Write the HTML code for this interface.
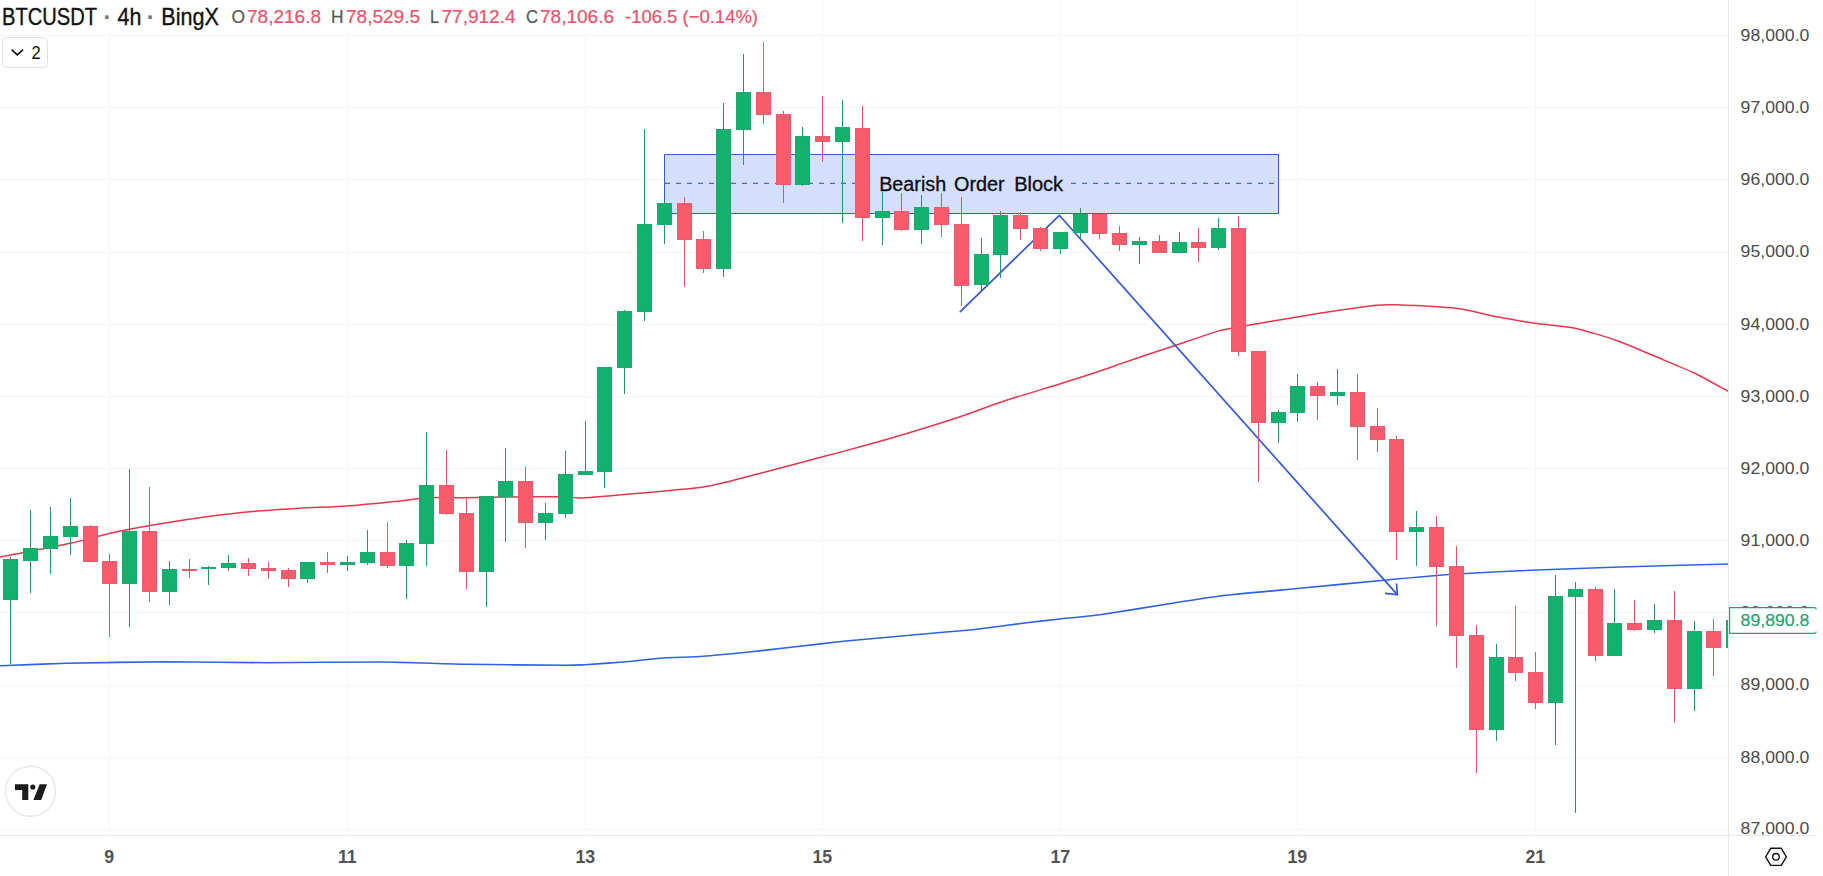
<!DOCTYPE html>
<html><head><meta charset="utf-8"><title>BTCUSDT 4h</title>
<style>html,body{margin:0;padding:0;background:#fff;overflow:hidden}svg{display:block}</style></head>
<body>
<svg width="1823" height="876" viewBox="0 0 1823 876" font-family="'Liberation Sans', Arial, sans-serif">
<rect width="1823" height="876" fill="#fff"/>
<defs><clipPath id="pane"><rect x="0" y="0" width="1728" height="835"/></clipPath></defs>
<g stroke="#f6f6f7" stroke-width="1" shape-rendering="crispEdges">
<line x1="0" y1="35.5" x2="1728" y2="35.5"/>
<line x1="0" y1="107.5" x2="1728" y2="107.5"/>
<line x1="0" y1="179.5" x2="1728" y2="179.5"/>
<line x1="0" y1="252.5" x2="1728" y2="252.5"/>
<line x1="0" y1="324.5" x2="1728" y2="324.5"/>
<line x1="0" y1="396.5" x2="1728" y2="396.5"/>
<line x1="0" y1="468.5" x2="1728" y2="468.5"/>
<line x1="0" y1="540.5" x2="1728" y2="540.5"/>
<line x1="0" y1="612.5" x2="1728" y2="612.5"/>
<line x1="0" y1="685.5" x2="1728" y2="685.5"/>
<line x1="0" y1="757.5" x2="1728" y2="757.5"/>
<line x1="0" y1="829.5" x2="1728" y2="829.5"/>
<line x1="109.5" y1="0" x2="109.5" y2="835"/>
<line x1="347.5" y1="0" x2="347.5" y2="835"/>
<line x1="585.5" y1="0" x2="585.5" y2="835"/>
<line x1="822.5" y1="0" x2="822.5" y2="835"/>
<line x1="1060.5" y1="0" x2="1060.5" y2="835"/>
<line x1="1297.5" y1="0" x2="1297.5" y2="835"/>
<line x1="1535.5" y1="0" x2="1535.5" y2="835"/>
</g>
<g clip-path="url(#pane)">
<rect x="664.5" y="154.5" width="614" height="59" fill="#d3dffc" stroke="#3361d4" stroke-width="1"/>
<line x1="665" y1="183.3" x2="872" y2="183.3" stroke="#3549ac" stroke-width="1" stroke-dasharray="5 6"/>
<line x1="1071" y1="183.3" x2="1278" y2="183.3" stroke="#3549ac" stroke-width="1" stroke-dasharray="5 6"/>
</g>
<g clip-path="url(#pane)" fill="none" stroke-linejoin="round" stroke-linecap="round">
<path d="M0.0,557.0 C3.3,556.4 26.3,552.1 33.3,550.7 C40.3,549.3 62.6,545.0 70.3,543.3 C78.0,541.6 104.1,534.7 110.0,533.3 C115.9,531.9 123.6,530.4 129.3,529.3 C135.0,528.2 159.0,524.0 166.7,522.7 C174.4,521.4 198.4,517.8 206.7,516.7 C215.0,515.6 240.7,512.5 250.0,511.7 C259.3,510.9 290.3,508.9 300.0,508.3 C309.7,507.7 336.7,506.7 346.7,506.0 C356.7,505.3 392.0,501.8 400.0,501.0 C408.0,500.2 420.0,498.0 426.7,497.7 C433.4,497.4 458.7,497.8 466.7,497.7 C474.7,497.6 496.7,497.1 506.7,497.0 C516.7,496.9 558.9,496.6 566.7,496.7 C574.5,496.8 571.3,498.7 585.0,497.7 C598.7,496.7 685.5,489.6 703.4,487.0 C721.3,484.4 752.4,475.2 764.3,472.2 C776.2,469.2 812.7,459.4 822.6,456.8 C832.5,454.2 854.3,448.4 863.0,446.0 C871.7,443.6 899.7,435.6 909.2,432.7 C918.8,429.8 948.6,420.5 958.5,417.2 C968.4,413.9 997.7,403.1 1007.9,399.8 C1018.1,396.5 1050.4,386.9 1060.3,383.8 C1070.2,380.7 1100.6,370.8 1106.6,368.8 C1112.6,366.8 1115.7,365.4 1120.0,363.9 C1124.3,362.4 1144.2,355.7 1150.0,353.8 C1155.8,351.9 1171.2,346.8 1178.0,344.5 C1184.8,342.2 1211.1,333.0 1218.0,331.1 C1224.9,329.2 1239.3,327.0 1247.1,325.6 C1254.9,324.2 1286.5,318.7 1295.6,317.2 C1304.7,315.7 1329.6,311.6 1337.7,310.4 C1345.8,309.2 1370.7,305.8 1376.5,305.2 C1382.3,304.6 1387.9,304.5 1396.0,304.8 C1404.1,305.1 1447.7,307.3 1457.4,308.4 C1467.1,309.5 1485.2,314.4 1493.0,315.9 C1500.8,317.4 1527.0,322.1 1535.1,323.3 C1543.2,324.5 1565.9,326.2 1574.0,327.9 C1582.1,329.6 1607.9,337.4 1616.0,340.2 C1624.1,343.0 1647.1,353.0 1654.9,356.3 C1662.7,359.6 1686.4,369.3 1693.7,372.8 C1701.0,376.3 1724.6,389.4 1728.0,391.2" stroke="#e4364e" stroke-width="1.5"/>
<path d="M0.0,665.7 C6.7,665.5 50.0,663.7 66.7,663.3 C83.4,662.9 146.7,661.8 166.7,661.7 C186.7,661.6 245.0,662.7 266.7,662.7 C288.4,662.7 363.3,661.8 383.3,662.0 C403.3,662.2 448.4,664.0 466.7,664.3 C485.0,664.6 554.9,665.3 566.7,665.3 C578.5,665.3 579.3,665.0 585.0,664.7 C590.7,664.4 615.8,662.6 623.3,662.0 C630.8,661.4 652.0,658.9 660.0,658.3 C668.0,657.7 694.6,656.9 703.3,656.3 C712.0,655.7 737.7,653.2 746.7,652.3 C755.7,651.4 783.6,648.1 793.3,647.0 C803.0,645.9 833.3,642.3 843.3,641.3 C853.3,640.3 883.3,637.6 893.3,636.7 C903.3,635.8 935.0,633.0 943.3,632.3 C951.6,631.6 968.4,630.3 976.7,629.3 C985.0,628.3 1018.4,623.7 1026.7,622.7 C1035.0,621.7 1052.7,619.8 1060.0,619.0 C1067.3,618.2 1089.2,616.2 1100.0,614.7 C1110.8,613.2 1155.7,605.9 1167.7,604.0 C1179.7,602.1 1206.8,597.6 1220.0,596.0 C1233.2,594.4 1283.3,589.9 1300.0,588.3 C1316.7,586.7 1371.4,581.4 1386.7,580.0 C1402.0,578.6 1440.0,575.2 1453.3,574.3 C1466.6,573.4 1503.3,571.4 1520.0,570.7 C1536.7,570.0 1599.2,567.7 1620.0,567.0 C1640.8,566.3 1717.2,564.3 1728.0,564.0" stroke="#2f62e2" stroke-width="1.6"/>
<polyline points="960.3,311.7 1059.3,215.3 1397.3,594.6" stroke="#3559d6" stroke-width="1.7"/>
<polyline points="1385.7,593.4 1397.3,594.6 1396.6,584" stroke="#3559d6" stroke-width="1.7"/>
</g>
<g clip-path="url(#pane)" shape-rendering="crispEdges">
<rect x="10" y="556.7" width="1" height="107.3" fill="#25936f"/>
<rect x="3" y="559.3" width="15" height="40.7" fill="#1ba672"/>
<rect x="4" y="560.3" width="13" height="38.7" fill="#12b26c"/>
<rect x="30" y="510.0" width="1" height="82.7" fill="#25936f"/>
<rect x="23" y="548.0" width="15" height="12.7" fill="#1ba672"/>
<rect x="24" y="549.0" width="13" height="10.7" fill="#12b26c"/>
<rect x="50" y="507.3" width="1" height="67.0" fill="#25936f"/>
<rect x="43" y="536.0" width="15" height="13.0" fill="#1ba672"/>
<rect x="44" y="537.0" width="13" height="11.0" fill="#12b26c"/>
<rect x="70" y="498.0" width="1" height="57.0" fill="#25936f"/>
<rect x="63" y="526.0" width="15" height="10.7" fill="#1ba672"/>
<rect x="64" y="527.0" width="13" height="8.7" fill="#12b26c"/>
<rect x="90" y="525.0" width="1" height="36.7" fill="#de546c"/>
<rect x="83" y="526.0" width="15" height="35.7" fill="#ec5a6e"/>
<rect x="84" y="527.0" width="13" height="33.7" fill="#f85b6b"/>
<rect x="109" y="554.0" width="1" height="83.0" fill="#de546c"/>
<rect x="102" y="561.0" width="15" height="22.7" fill="#ec5a6e"/>
<rect x="103" y="562.0" width="13" height="20.7" fill="#f85b6b"/>
<rect x="129" y="469.0" width="1" height="157.7" fill="#25936f"/>
<rect x="122" y="531.0" width="15" height="52.7" fill="#1ba672"/>
<rect x="123" y="532.0" width="13" height="50.7" fill="#12b26c"/>
<rect x="149" y="487.0" width="1" height="114.7" fill="#de546c"/>
<rect x="142" y="531.0" width="15" height="60.7" fill="#ec5a6e"/>
<rect x="143" y="532.0" width="13" height="58.7" fill="#f85b6b"/>
<rect x="169" y="561.3" width="1" height="43.4" fill="#25936f"/>
<rect x="162" y="569.0" width="15" height="22.7" fill="#1ba672"/>
<rect x="163" y="570.0" width="13" height="20.7" fill="#12b26c"/>
<rect x="189" y="559.3" width="1" height="18.4" fill="#de546c"/>
<rect x="182" y="569.3" width="15" height="1.2" fill="#ec5a6e"/>
<rect x="208" y="566.0" width="1" height="18.7" fill="#25936f"/>
<rect x="201" y="566.5" width="15" height="2.8" fill="#1ba672"/>
<rect x="202" y="567.5" width="13" height="0.8" fill="#12b26c"/>
<rect x="228" y="555.0" width="1" height="15.7" fill="#25936f"/>
<rect x="221" y="563.0" width="15" height="4.7" fill="#1ba672"/>
<rect x="222" y="564.0" width="13" height="2.7" fill="#12b26c"/>
<rect x="248" y="558.3" width="1" height="17.4" fill="#de546c"/>
<rect x="241" y="563.0" width="15" height="5.7" fill="#ec5a6e"/>
<rect x="242" y="564.0" width="13" height="3.7" fill="#f85b6b"/>
<rect x="268" y="562.3" width="1" height="16.7" fill="#de546c"/>
<rect x="261" y="568.0" width="15" height="2.7" fill="#ec5a6e"/>
<rect x="262" y="569.0" width="13" height="0.7" fill="#f85b6b"/>
<rect x="288" y="568.3" width="1" height="18.4" fill="#de546c"/>
<rect x="281" y="570.0" width="15" height="8.7" fill="#ec5a6e"/>
<rect x="282" y="571.0" width="13" height="6.7" fill="#f85b6b"/>
<rect x="307" y="562.0" width="1" height="20.7" fill="#25936f"/>
<rect x="300" y="562.0" width="15" height="16.7" fill="#1ba672"/>
<rect x="301" y="563.0" width="13" height="14.7" fill="#12b26c"/>
<rect x="327" y="552.0" width="1" height="20.7" fill="#de546c"/>
<rect x="320" y="562.0" width="15" height="2.7" fill="#ec5a6e"/>
<rect x="321" y="563.0" width="13" height="0.7" fill="#f85b6b"/>
<rect x="347" y="555.7" width="1" height="15.0" fill="#25936f"/>
<rect x="340" y="562.0" width="15" height="2.7" fill="#1ba672"/>
<rect x="341" y="563.0" width="13" height="0.7" fill="#12b26c"/>
<rect x="367" y="530.0" width="1" height="34.7" fill="#25936f"/>
<rect x="360" y="552.0" width="15" height="10.7" fill="#1ba672"/>
<rect x="361" y="553.0" width="13" height="8.7" fill="#12b26c"/>
<rect x="387" y="522.3" width="1" height="45.4" fill="#de546c"/>
<rect x="380" y="552.0" width="15" height="13.7" fill="#ec5a6e"/>
<rect x="381" y="553.0" width="13" height="11.7" fill="#f85b6b"/>
<rect x="406" y="540.3" width="1" height="58.4" fill="#25936f"/>
<rect x="399" y="543.0" width="15" height="22.7" fill="#1ba672"/>
<rect x="400" y="544.0" width="13" height="20.7" fill="#12b26c"/>
<rect x="426" y="432.0" width="1" height="133.7" fill="#25936f"/>
<rect x="419" y="485.0" width="15" height="58.7" fill="#1ba672"/>
<rect x="420" y="486.0" width="13" height="56.7" fill="#12b26c"/>
<rect x="446" y="450.0" width="1" height="65.0" fill="#de546c"/>
<rect x="439" y="485.0" width="15" height="28.7" fill="#ec5a6e"/>
<rect x="440" y="486.0" width="13" height="26.7" fill="#f85b6b"/>
<rect x="466" y="499.3" width="1" height="89.7" fill="#de546c"/>
<rect x="459" y="513.0" width="15" height="58.7" fill="#ec5a6e"/>
<rect x="460" y="514.0" width="13" height="56.7" fill="#f85b6b"/>
<rect x="486" y="496.0" width="1" height="110.7" fill="#25936f"/>
<rect x="479" y="496.0" width="15" height="75.7" fill="#1ba672"/>
<rect x="480" y="497.0" width="13" height="73.7" fill="#12b26c"/>
<rect x="505" y="448.0" width="1" height="93.7" fill="#25936f"/>
<rect x="498" y="480.7" width="15" height="16.3" fill="#1ba672"/>
<rect x="499" y="481.7" width="13" height="14.3" fill="#12b26c"/>
<rect x="525" y="467.0" width="1" height="80.7" fill="#de546c"/>
<rect x="518" y="480.7" width="15" height="42.0" fill="#ec5a6e"/>
<rect x="519" y="481.7" width="13" height="40.0" fill="#f85b6b"/>
<rect x="545" y="503.0" width="1" height="37.0" fill="#25936f"/>
<rect x="538" y="513.0" width="15" height="9.7" fill="#1ba672"/>
<rect x="539" y="514.0" width="13" height="7.7" fill="#12b26c"/>
<rect x="565" y="451.0" width="1" height="66.7" fill="#25936f"/>
<rect x="558" y="474.0" width="15" height="39.7" fill="#1ba672"/>
<rect x="559" y="475.0" width="13" height="37.7" fill="#12b26c"/>
<rect x="585" y="420.7" width="1" height="54.0" fill="#25936f"/>
<rect x="578" y="471.0" width="15" height="3.7" fill="#1ba672"/>
<rect x="579" y="472.0" width="13" height="1.7" fill="#12b26c"/>
<rect x="604" y="367.0" width="1" height="120.7" fill="#25936f"/>
<rect x="597" y="367.0" width="15" height="104.7" fill="#1ba672"/>
<rect x="598" y="368.0" width="13" height="102.7" fill="#12b26c"/>
<rect x="624" y="310.0" width="1" height="84.0" fill="#25936f"/>
<rect x="617" y="311.0" width="15" height="56.7" fill="#1ba672"/>
<rect x="618" y="312.0" width="13" height="54.7" fill="#12b26c"/>
<rect x="644" y="129.0" width="1" height="192.3" fill="#25936f"/>
<rect x="637" y="224.0" width="15" height="87.7" fill="#1ba672"/>
<rect x="638" y="225.0" width="13" height="85.7" fill="#12b26c"/>
<rect x="664" y="203.0" width="1" height="40.7" fill="#25936f"/>
<rect x="657" y="203.0" width="15" height="21.7" fill="#1ba672"/>
<rect x="658" y="204.0" width="13" height="19.7" fill="#12b26c"/>
<rect x="684" y="196.7" width="1" height="90.0" fill="#de546c"/>
<rect x="677" y="203.0" width="15" height="36.7" fill="#ec5a6e"/>
<rect x="678" y="204.0" width="13" height="34.7" fill="#f85b6b"/>
<rect x="703" y="231.3" width="1" height="41.4" fill="#de546c"/>
<rect x="696" y="239.3" width="15" height="29.4" fill="#ec5a6e"/>
<rect x="697" y="240.3" width="13" height="27.4" fill="#f85b6b"/>
<rect x="723" y="103.0" width="1" height="173.7" fill="#25936f"/>
<rect x="716" y="129.0" width="15" height="139.7" fill="#1ba672"/>
<rect x="717" y="130.0" width="13" height="137.7" fill="#12b26c"/>
<rect x="743" y="54.0" width="1" height="110.7" fill="#25936f"/>
<rect x="736" y="92.0" width="15" height="38.0" fill="#1ba672"/>
<rect x="737" y="93.0" width="13" height="36.0" fill="#12b26c"/>
<rect x="763" y="42.0" width="1" height="81.7" fill="#de546c"/>
<rect x="756" y="92.0" width="15" height="22.7" fill="#ec5a6e"/>
<rect x="757" y="93.0" width="13" height="20.7" fill="#f85b6b"/>
<rect x="783" y="111.0" width="1" height="92.0" fill="#de546c"/>
<rect x="776" y="114.0" width="15" height="70.7" fill="#ec5a6e"/>
<rect x="777" y="115.0" width="13" height="68.7" fill="#f85b6b"/>
<rect x="802" y="127.0" width="1" height="58.7" fill="#25936f"/>
<rect x="795" y="136.0" width="15" height="48.7" fill="#1ba672"/>
<rect x="796" y="137.0" width="13" height="46.7" fill="#12b26c"/>
<rect x="822" y="96.0" width="1" height="65.7" fill="#de546c"/>
<rect x="815" y="136.0" width="15" height="5.7" fill="#ec5a6e"/>
<rect x="816" y="137.0" width="13" height="3.7" fill="#f85b6b"/>
<rect x="842" y="100.0" width="1" height="122.7" fill="#25936f"/>
<rect x="835" y="127.0" width="15" height="14.7" fill="#1ba672"/>
<rect x="836" y="128.0" width="13" height="12.7" fill="#12b26c"/>
<rect x="862" y="106.0" width="1" height="134.7" fill="#de546c"/>
<rect x="855" y="128.0" width="15" height="89.7" fill="#ec5a6e"/>
<rect x="856" y="129.0" width="13" height="87.7" fill="#f85b6b"/>
<rect x="882" y="192.0" width="1" height="52.7" fill="#25936f"/>
<rect x="875" y="211.0" width="15" height="6.7" fill="#1ba672"/>
<rect x="876" y="212.0" width="13" height="4.7" fill="#12b26c"/>
<rect x="901" y="193.0" width="1" height="37.7" fill="#de546c"/>
<rect x="894" y="211.0" width="15" height="18.7" fill="#ec5a6e"/>
<rect x="895" y="212.0" width="13" height="16.7" fill="#f85b6b"/>
<rect x="921" y="195.0" width="1" height="48.7" fill="#25936f"/>
<rect x="914" y="207.0" width="15" height="22.7" fill="#1ba672"/>
<rect x="915" y="208.0" width="13" height="20.7" fill="#12b26c"/>
<rect x="941" y="193.0" width="1" height="43.7" fill="#de546c"/>
<rect x="934" y="207.0" width="15" height="17.7" fill="#ec5a6e"/>
<rect x="935" y="208.0" width="13" height="15.7" fill="#f85b6b"/>
<rect x="961" y="196.7" width="1" height="109.3" fill="#de546c"/>
<rect x="954" y="224.0" width="15" height="61.7" fill="#ec5a6e"/>
<rect x="955" y="225.0" width="13" height="59.7" fill="#f85b6b"/>
<rect x="981" y="238.3" width="1" height="51.7" fill="#25936f"/>
<rect x="974" y="254.0" width="15" height="30.7" fill="#1ba672"/>
<rect x="975" y="255.0" width="13" height="28.7" fill="#12b26c"/>
<rect x="1000" y="211.0" width="1" height="66.7" fill="#25936f"/>
<rect x="993" y="215.0" width="15" height="39.7" fill="#1ba672"/>
<rect x="994" y="216.0" width="13" height="37.7" fill="#12b26c"/>
<rect x="1020" y="211.7" width="1" height="28.0" fill="#de546c"/>
<rect x="1013" y="215.0" width="15" height="13.7" fill="#ec5a6e"/>
<rect x="1014" y="216.0" width="13" height="11.7" fill="#f85b6b"/>
<rect x="1040" y="226.7" width="1" height="24.0" fill="#de546c"/>
<rect x="1033" y="228.0" width="15" height="20.7" fill="#ec5a6e"/>
<rect x="1034" y="229.0" width="13" height="18.7" fill="#f85b6b"/>
<rect x="1060" y="232.0" width="1" height="21.7" fill="#25936f"/>
<rect x="1053" y="232.0" width="15" height="16.7" fill="#1ba672"/>
<rect x="1054" y="233.0" width="13" height="14.7" fill="#12b26c"/>
<rect x="1080" y="208.0" width="1" height="31.7" fill="#25936f"/>
<rect x="1073" y="214.0" width="15" height="18.7" fill="#1ba672"/>
<rect x="1074" y="215.0" width="13" height="16.7" fill="#12b26c"/>
<rect x="1099" y="214.0" width="1" height="24.7" fill="#de546c"/>
<rect x="1092" y="214.0" width="15" height="19.7" fill="#ec5a6e"/>
<rect x="1093" y="215.0" width="13" height="17.7" fill="#f85b6b"/>
<rect x="1119" y="225.7" width="1" height="25.0" fill="#de546c"/>
<rect x="1112" y="233.0" width="15" height="11.7" fill="#ec5a6e"/>
<rect x="1113" y="234.0" width="13" height="9.7" fill="#f85b6b"/>
<rect x="1139" y="236.7" width="1" height="27.0" fill="#25936f"/>
<rect x="1132" y="241.3" width="15" height="3.4" fill="#1ba672"/>
<rect x="1133" y="242.3" width="13" height="1.4" fill="#12b26c"/>
<rect x="1159" y="234.7" width="1" height="18.0" fill="#de546c"/>
<rect x="1152" y="241.3" width="15" height="11.4" fill="#ec5a6e"/>
<rect x="1153" y="242.3" width="13" height="9.4" fill="#f85b6b"/>
<rect x="1179" y="232.0" width="1" height="20.7" fill="#25936f"/>
<rect x="1172" y="242.0" width="15" height="10.7" fill="#1ba672"/>
<rect x="1173" y="243.0" width="13" height="8.7" fill="#12b26c"/>
<rect x="1198" y="228.0" width="1" height="33.7" fill="#de546c"/>
<rect x="1191" y="242.0" width="15" height="5.7" fill="#ec5a6e"/>
<rect x="1192" y="243.0" width="13" height="3.7" fill="#f85b6b"/>
<rect x="1218" y="218.0" width="1" height="31.7" fill="#25936f"/>
<rect x="1211" y="228.0" width="15" height="19.7" fill="#1ba672"/>
<rect x="1212" y="229.0" width="13" height="17.7" fill="#12b26c"/>
<rect x="1238" y="216.0" width="1" height="139.7" fill="#de546c"/>
<rect x="1231" y="228.0" width="15" height="124.0" fill="#ec5a6e"/>
<rect x="1232" y="229.0" width="13" height="122.0" fill="#f85b6b"/>
<rect x="1258" y="351.0" width="1" height="130.8" fill="#de546c"/>
<rect x="1251" y="351.0" width="15" height="71.7" fill="#ec5a6e"/>
<rect x="1252" y="352.0" width="13" height="69.7" fill="#f85b6b"/>
<rect x="1278" y="410.0" width="1" height="32.7" fill="#25936f"/>
<rect x="1271" y="412.3" width="15" height="10.4" fill="#1ba672"/>
<rect x="1272" y="413.3" width="13" height="8.4" fill="#12b26c"/>
<rect x="1297" y="374.0" width="1" height="47.7" fill="#25936f"/>
<rect x="1290" y="386.0" width="15" height="26.7" fill="#1ba672"/>
<rect x="1291" y="387.0" width="13" height="24.7" fill="#12b26c"/>
<rect x="1317" y="382.0" width="1" height="37.7" fill="#de546c"/>
<rect x="1310" y="386.0" width="15" height="9.7" fill="#ec5a6e"/>
<rect x="1311" y="387.0" width="13" height="7.7" fill="#f85b6b"/>
<rect x="1337" y="369.0" width="1" height="35.7" fill="#25936f"/>
<rect x="1330" y="392.0" width="15" height="3.7" fill="#1ba672"/>
<rect x="1331" y="393.0" width="13" height="1.7" fill="#12b26c"/>
<rect x="1357" y="374.0" width="1" height="85.7" fill="#de546c"/>
<rect x="1350" y="392.0" width="15" height="34.7" fill="#ec5a6e"/>
<rect x="1351" y="393.0" width="13" height="32.7" fill="#f85b6b"/>
<rect x="1377" y="408.0" width="1" height="43.7" fill="#de546c"/>
<rect x="1370" y="426.0" width="15" height="13.7" fill="#ec5a6e"/>
<rect x="1371" y="427.0" width="13" height="11.7" fill="#f85b6b"/>
<rect x="1396" y="436.0" width="1" height="123.7" fill="#de546c"/>
<rect x="1389" y="439.0" width="15" height="92.7" fill="#ec5a6e"/>
<rect x="1390" y="440.0" width="13" height="90.7" fill="#f85b6b"/>
<rect x="1416" y="511.3" width="1" height="55.0" fill="#25936f"/>
<rect x="1409" y="527.0" width="15" height="4.7" fill="#1ba672"/>
<rect x="1410" y="528.0" width="13" height="2.7" fill="#12b26c"/>
<rect x="1436" y="516.3" width="1" height="109.4" fill="#de546c"/>
<rect x="1429" y="527.0" width="15" height="39.7" fill="#ec5a6e"/>
<rect x="1430" y="528.0" width="13" height="37.7" fill="#f85b6b"/>
<rect x="1456" y="546.0" width="1" height="122.2" fill="#de546c"/>
<rect x="1449" y="566.0" width="15" height="69.7" fill="#ec5a6e"/>
<rect x="1450" y="567.0" width="13" height="67.7" fill="#f85b6b"/>
<rect x="1476" y="625.0" width="1" height="148.0" fill="#de546c"/>
<rect x="1469" y="635.0" width="15" height="94.7" fill="#ec5a6e"/>
<rect x="1470" y="636.0" width="13" height="92.7" fill="#f85b6b"/>
<rect x="1496" y="644.0" width="1" height="96.7" fill="#25936f"/>
<rect x="1489" y="657.0" width="15" height="72.7" fill="#1ba672"/>
<rect x="1490" y="658.0" width="13" height="70.7" fill="#12b26c"/>
<rect x="1515" y="606.0" width="1" height="74.7" fill="#de546c"/>
<rect x="1508" y="657.0" width="15" height="15.7" fill="#ec5a6e"/>
<rect x="1509" y="658.0" width="13" height="13.7" fill="#f85b6b"/>
<rect x="1535" y="652.0" width="1" height="56.7" fill="#de546c"/>
<rect x="1528" y="672.0" width="15" height="30.7" fill="#ec5a6e"/>
<rect x="1529" y="673.0" width="13" height="28.7" fill="#f85b6b"/>
<rect x="1555" y="575.0" width="1" height="170.3" fill="#25936f"/>
<rect x="1548" y="596.0" width="15" height="106.7" fill="#1ba672"/>
<rect x="1549" y="597.0" width="13" height="104.7" fill="#12b26c"/>
<rect x="1575" y="582.0" width="1" height="230.7" fill="#25936f"/>
<rect x="1568" y="589.0" width="15" height="7.7" fill="#1ba672"/>
<rect x="1569" y="590.0" width="13" height="5.7" fill="#12b26c"/>
<rect x="1595" y="587.3" width="1" height="73.4" fill="#de546c"/>
<rect x="1588" y="589.0" width="15" height="66.7" fill="#ec5a6e"/>
<rect x="1589" y="590.0" width="13" height="64.7" fill="#f85b6b"/>
<rect x="1614" y="589.0" width="1" height="66.7" fill="#25936f"/>
<rect x="1607" y="623.0" width="15" height="32.7" fill="#1ba672"/>
<rect x="1608" y="624.0" width="13" height="30.7" fill="#12b26c"/>
<rect x="1634" y="600.0" width="1" height="30.7" fill="#de546c"/>
<rect x="1627" y="623.0" width="15" height="6.7" fill="#ec5a6e"/>
<rect x="1628" y="624.0" width="13" height="4.7" fill="#f85b6b"/>
<rect x="1654" y="604.0" width="1" height="28.7" fill="#25936f"/>
<rect x="1647" y="620.0" width="15" height="9.7" fill="#1ba672"/>
<rect x="1648" y="621.0" width="13" height="7.7" fill="#12b26c"/>
<rect x="1674" y="591.0" width="1" height="131.7" fill="#de546c"/>
<rect x="1667" y="620.0" width="15" height="68.7" fill="#ec5a6e"/>
<rect x="1668" y="621.0" width="13" height="66.7" fill="#f85b6b"/>
<rect x="1694" y="621.0" width="1" height="89.7" fill="#25936f"/>
<rect x="1687" y="631.0" width="15" height="57.7" fill="#1ba672"/>
<rect x="1688" y="632.0" width="13" height="55.7" fill="#12b26c"/>
<rect x="1713" y="619.0" width="1" height="56.7" fill="#de546c"/>
<rect x="1706" y="631.0" width="15" height="16.7" fill="#ec5a6e"/>
<rect x="1707" y="632.0" width="13" height="14.7" fill="#f85b6b"/>
<rect x="1733" y="620.0" width="1" height="27.7" fill="#25936f"/>
<rect x="1726" y="620.0" width="15" height="27.7" fill="#1ba672"/>
<rect x="1727" y="621.0" width="13" height="25.7" fill="#12b26c"/>
</g>
<g font-size="19.6" fill="#0c0c14" stroke="#0c0c14" stroke-width="0.3">
<text x="879.2" y="190.7" textLength="67" lengthAdjust="spacingAndGlyphs">Bearish</text>
<text x="954" y="190.7" textLength="50.7" lengthAdjust="spacingAndGlyphs">Order</text>
<text x="1014.2" y="190.7" textLength="48.9" lengthAdjust="spacingAndGlyphs">Block</text>
</g>
<g stroke="#e8e8ea" stroke-width="1" shape-rendering="crispEdges"><line x1="1728.5" y1="0" x2="1728.5" y2="876"/><line x1="0" y1="835.5" x2="1816" y2="835.5"/></g>
<g font-size="16.7" fill="#4b4b4b" clip-path="url(#paxis)">
<defs><clipPath id="paxis"><rect x="1729" y="0" width="94" height="835.3"/></clipPath></defs>
<text x="1740.6" y="40.8" textLength="68.8" lengthAdjust="spacingAndGlyphs">98,000.0</text>
<text x="1740.6" y="113.0" textLength="68.8" lengthAdjust="spacingAndGlyphs">97,000.0</text>
<text x="1740.6" y="185.2" textLength="68.8" lengthAdjust="spacingAndGlyphs">96,000.0</text>
<text x="1740.6" y="257.3" textLength="68.8" lengthAdjust="spacingAndGlyphs">95,000.0</text>
<text x="1740.6" y="329.5" textLength="68.8" lengthAdjust="spacingAndGlyphs">94,000.0</text>
<text x="1740.6" y="401.7" textLength="68.8" lengthAdjust="spacingAndGlyphs">93,000.0</text>
<text x="1740.6" y="473.9" textLength="68.8" lengthAdjust="spacingAndGlyphs">92,000.0</text>
<text x="1740.6" y="546.1" textLength="68.8" lengthAdjust="spacingAndGlyphs">91,000.0</text>
<text x="1740.6" y="618.2" textLength="68.8" lengthAdjust="spacingAndGlyphs">90,000.0</text>
<text x="1740.6" y="690.4" textLength="68.8" lengthAdjust="spacingAndGlyphs">89,000.0</text>
<text x="1740.6" y="762.6" textLength="68.8" lengthAdjust="spacingAndGlyphs">88,000.0</text>
<text x="1740.6" y="833.8" textLength="68.8" lengthAdjust="spacingAndGlyphs">87,000.0</text>
</g>
<rect x="1729.5" y="607.5" width="87" height="26" fill="#fff"/>
<path d="M1816.3,609.3 Q1816,607.6 1814.3,607.6 H1729.6 V633.4 H1814.3 Q1816,633.4 1816.3,631.7" fill="none" stroke="#17a36f" stroke-width="1.1"/>
<text x="1740.6" y="625.5" font-size="16.7" fill="#17a36f" stroke="#17a36f" stroke-width="0.15" textLength="68.8" lengthAdjust="spacingAndGlyphs">89,890.8</text>
<g font-size="17.8" font-weight="700" fill="#535353" text-anchor="middle">
<text x="109.3" y="862.8">9</text>
<text x="347.3" y="862.8">11</text>
<text x="585.3" y="862.8">13</text>
<text x="822.3" y="862.8">15</text>
<text x="1060.3" y="862.8">17</text>
<text x="1297.3" y="862.8">19</text>
<text x="1535.3" y="862.8">21</text>
</g>
<rect x="0" y="0" width="762" height="30.5" fill="#fff"/>
<g font-size="23.7" fill="#111" stroke="#111" stroke-width="0.35">
<text x="2.0" y="24.8" textLength="95" lengthAdjust="spacingAndGlyphs">BTCUSDT</text>
<text x="117.5" y="24.8" textLength="23.8" lengthAdjust="spacingAndGlyphs">4h</text>
<text x="161.3" y="24.8" textLength="57.5" lengthAdjust="spacingAndGlyphs">BingX</text>
</g>
<g font-size="23.7" font-weight="700" fill="#777" text-anchor="middle"><text x="107.5" y="24.8">·</text><text x="150.8" y="24.8">·</text></g>
<g font-size="18.2" stroke-width="0.2">
<text x="231.5" y="22.9" fill="#555" stroke="#555" textLength="13.5" lengthAdjust="spacingAndGlyphs">O</text>
<text x="247" y="22.9" fill="#e8536a" stroke="#e8536a" textLength="74" lengthAdjust="spacingAndGlyphs">78,216.8</text>
<text x="331" y="22.9" fill="#555" stroke="#555" textLength="12.5" lengthAdjust="spacingAndGlyphs">H</text>
<text x="346" y="22.9" fill="#e8536a" stroke="#e8536a" textLength="74" lengthAdjust="spacingAndGlyphs">78,529.5</text>
<text x="430" y="22.9" fill="#555" stroke="#555" textLength="9" lengthAdjust="spacingAndGlyphs">L</text>
<text x="441.5" y="22.9" fill="#e8536a" stroke="#e8536a" textLength="74" lengthAdjust="spacingAndGlyphs">77,912.4</text>
<text x="526" y="22.9" fill="#555" stroke="#555" textLength="12" lengthAdjust="spacingAndGlyphs">C</text>
<text x="540" y="22.9" fill="#e8536a" stroke="#e8536a" textLength="74" lengthAdjust="spacingAndGlyphs">78,106.6</text>
<text x="625" y="22.9" fill="#e8536a" stroke="#e8536a" textLength="133" lengthAdjust="spacingAndGlyphs">-106.5 (−0.14%)</text>
</g>
<rect x="2.5" y="37.5" width="45" height="30" rx="4" fill="#fff" stroke="#e2e2e5" stroke-width="1"/>
<polyline points="11.6,49.6 17.3,54.8 23,49.6" fill="none" stroke="#111" stroke-width="1.6"/>
<text x="31.6" y="59" font-size="19.2" fill="#111" textLength="9.2" lengthAdjust="spacingAndGlyphs">2</text>
<circle cx="30.5" cy="791.3" r="25" fill="#fff" stroke="#e7e7e9" stroke-width="1.4"/>
<g fill="#1c1c1c"><polygon points="15,784.2 28.3,784.2 28.3,800 22.2,800 22.2,790 15,790"/><circle cx="32.8" cy="787" r="2.6"/><polygon points="39.7,784.2 47,784.2 41.2,800 33.4,800"/></g>
<polygon points="1786.4,856.8 1781.2,865.4 1770.8,865.4 1765.6,856.8 1770.8,848.2 1781.2,848.2" fill="none" stroke="#111" stroke-width="1.4" stroke-linejoin="round"/>
<circle cx="1776" cy="856.8" r="3.3" fill="none" stroke="#111" stroke-width="1.4"/>
</svg>
</body></html>
